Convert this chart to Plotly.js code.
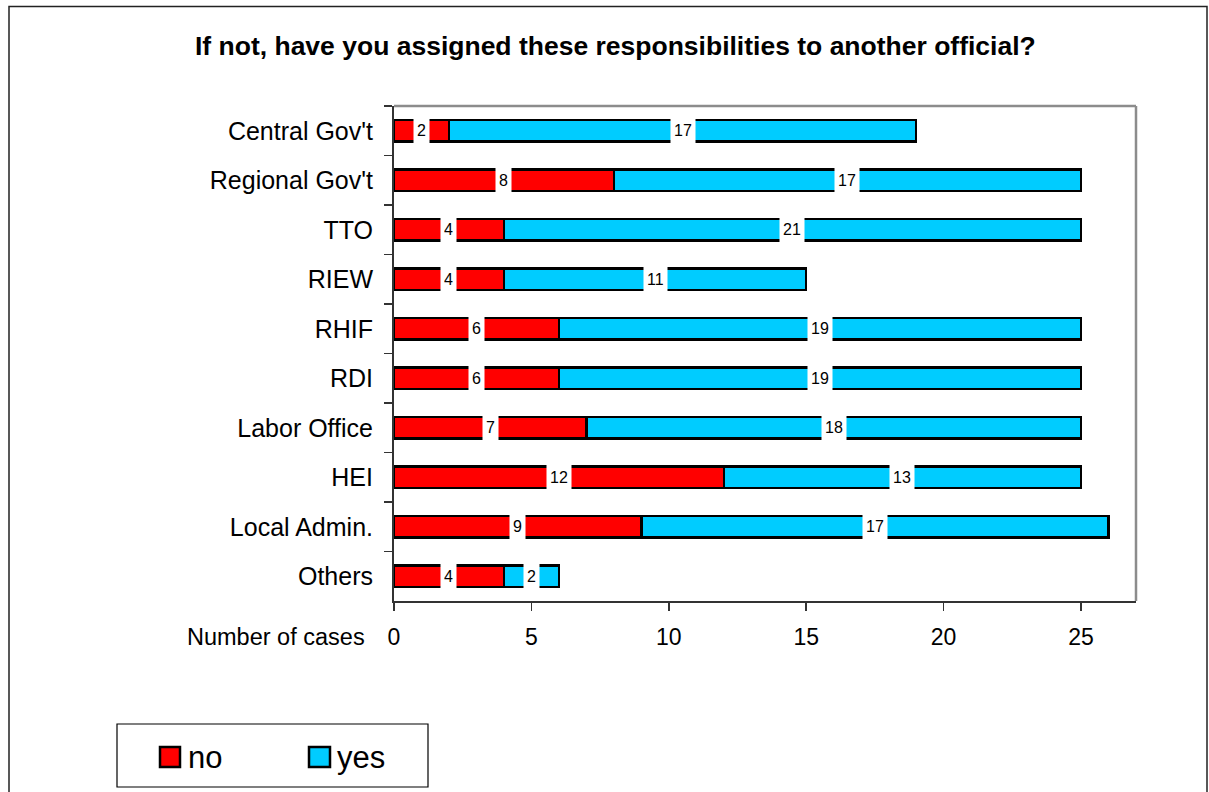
<!DOCTYPE html>
<html>
<head>
<meta charset="utf-8">
<script src="https://cdn.plot.ly/plotly-3.0.1.min.js"></script>
<style>
html,body{margin:0;padding:0;background:#fff;}
#chart{width:1209px;height:792px;}
</style>
</head>
<body>
<div id="chart"></div>
<script>
const categories = ["Central Gov't","Regional Gov't","TTO","RIEW","RHIF","RDI","Labor Office","HEI","Local Admin.","Others"];
const noValues  = [2, 8, 4, 4, 6, 6, 7, 12, 9, 4];
const yesValues = [17, 17, 21, 11, 19, 19, 18, 13, 17, 2];
const seriesNames = ["no", "yes"];
const seriesColors = ["#FF0000", "#00CCFF"];
const xTicks = [0, 5, 10, 15, 20, 25];
const titleText = "If not, have you assigned these responsibilities to another official?";
const xLabel = "Number of cases";

const FONT = "Liberation Sans, Arial, sans-serif";

// plot area in pixels: x 394..1136, y 106..601
const PX = px => (px - 394) / 742;
const PY = py => (601 - py) / 495;

const traces = [
  {
    type: 'bar', orientation: 'h', name: seriesNames[0],
    y: categories, x: noValues,
    marker: {color: seriesColors[0], line: {color: '#000000', width: 2.5}},
    showlegend: false
  },
  {
    type: 'bar', orientation: 'h', name: seriesNames[1],
    y: categories, x: yesValues,
    marker: {color: seriesColors[1], line: {color: '#000000', width: 2.5}},
    showlegend: false
  }
];

const annotations = [];
categories.forEach((c, i) => {
  annotations.push({
    x: noValues[i] / 2, y: c, xref: 'x', yref: 'y',
    text: String(noValues[i]), showarrow: false,
    font: {family: FONT, size: 16, color: '#000'},
    bgcolor: '#ffffff', borderpad: 3, height: 19
  });
  annotations.push({
    x: noValues[i] + yesValues[i] / 2, y: c, xref: 'x', yref: 'y',
    text: String(yesValues[i]), showarrow: false,
    font: {family: FONT, size: 16, color: '#000'},
    bgcolor: '#ffffff', borderpad: 3, height: 19
  });
});
annotations.push({
  x: PX(367), y: PY(637), xref: 'paper', yref: 'paper',
  xanchor: 'right', yanchor: 'middle',
  text: xLabel, showarrow: false,
  font: {family: FONT, size: 23.5, color: '#000'}
});
// legend texts
const legendSquares = [[160, 180], [309, 330]];
const legendTextX = [186, 335];
seriesNames.forEach((n, k) => {
  annotations.push({
    x: PX(legendTextX[k]), y: PY(757), xref: 'paper', yref: 'paper',
    xanchor: 'left', yanchor: 'middle',
    text: n, showarrow: false,
    font: {family: FONT, size: 31, color: '#000'}
  });
});

const shapes = [
  {type: 'line', xref: 'paper', yref: 'paper', x0: 0, x1: 1, y0: 1, y1: 1,
   line: {color: '#8c8c8c', width: 2.5}, layer: 'below'},
  {type: 'line', xref: 'paper', yref: 'paper', x0: 1, x1: 1, y0: 0, y1: 1,
   line: {color: '#8c8c8c', width: 2.5}, layer: 'below'},
  {type: 'rect', xref: 'paper', yref: 'paper',
   x0: PX(9), x1: PX(1207), y0: PY(810), y1: PY(6.5),
   line: {color: '#222', width: 1.5}, fillcolor: 'rgba(0,0,0,0)', layer: 'below'},
  // legend box
  {type: 'rect', xref: 'paper', yref: 'paper',
   x0: PX(117), x1: PX(428), y0: PY(787), y1: PY(724),
   line: {color: '#000', width: 1.2}, fillcolor: '#ffffff', layer: 'below'}
];
legendSquares.forEach((s, k) => {
  shapes.push({type: 'rect', xref: 'paper', yref: 'paper',
    x0: PX(s[0]), x1: PX(s[1]), y0: PY(767), y1: PY(747),
    line: {color: '#000', width: 2.5}, fillcolor: seriesColors[k], layer: 'above'});
});

const layout = {
  width: 1209, height: 792,
  margin: {l: 394, r: 73, t: 106, b: 191},
  paper_bgcolor: '#ffffff', plot_bgcolor: '#ffffff',
  barmode: 'stack', bargap: 0.57,
  title: {
    text: '<b>' + titleText + '</b>',
    font: {family: FONT, size: 26.5, color: '#000'},
    x: 0.509, xref: 'container', xanchor: 'center',
    y: 0.942, yref: 'container', yanchor: 'middle'
  },
  xaxis: {
    range: [0, 27], tickvals: xTicks, ticktext: xTicks.map(String),
    ticks: 'outside', ticklen: 8, tickwidth: 1.5, tickcolor: '#333',
    showline: true, linecolor: '#333', linewidth: 2,
    showgrid: false, zeroline: false,
    tickfont: {family: FONT, size: 23, color: '#000'},
    ticklabelstandoff: 6, fixedrange: true
  },
  yaxis: {
    autorange: 'reversed', type: 'category',
    tickson: 'boundaries', ticks: 'outside', ticklen: 8, tickwidth: 1.5, tickcolor: '#333',
    showline: true, linecolor: '#333', linewidth: 2,
    showgrid: false, zeroline: false,
    tickfont: {family: FONT, size: 25, color: '#000'},
    ticklabelstandoff: 14, fixedrange: true
  },
  showlegend: false,
  annotations: annotations,
  shapes: shapes
};

Plotly.newPlot('chart', traces, layout, {displayModeBar: false, staticPlot: true});
</script>
</body>
</html>
